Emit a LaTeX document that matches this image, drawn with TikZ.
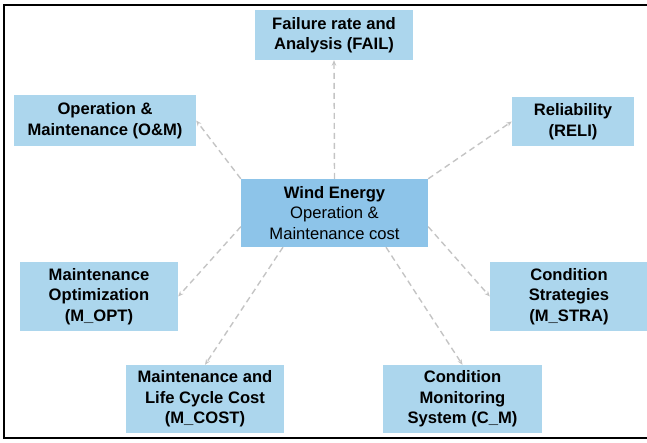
\documentclass[tikz,border=0pt]{standalone}
\usepackage{fontspec}
\setmainfont{Liberation Sans}
\usetikzlibrary{arrows.meta,calc}
\definecolor{topicblue}{RGB}{172,214,237}
\definecolor{coreblue}{RGB}{141,196,233}
\definecolor{linkgray}{RGB}{196,196,196}
\begin{document}
\begin{tikzpicture}[
    x=1pt, y=-1pt,
    topic/.style={rectangle, fill=topicblue, align=center, inner sep=0pt,
        font=\fontsize{16.6}{20.5}\selectfont\bfseries},
    core/.style={rectangle, fill=coreblue, align=center, inner sep=0pt,
        minimum width=187pt, minimum height=68pt, font=\fontsize{16.6}{20.5}\selectfont},
    link/.style={-{Stealth[length=5.5pt,width=4.5pt]}, linkgray, line width=1.4pt, dash pattern=on 6pt off 4pt}
]
\useasboundingbox (0,0) rectangle (647,443);
\draw[line width=2pt] (4,5) rectangle (660,438);

\node[core] (cen) at (334.5,213) {\textbf{Wind Energy}\\Operation \&\\Maintenance cost};
\node[topic, minimum width=158pt, minimum height=50pt] (fail) at (334,35) {Failure rate and\\Analysis (FAIL)};
\node[topic, minimum width=182pt, minimum height=51pt] (om) at (105,120.5) {Operation \&\\Maintenance (O\&M)};
\node[topic, minimum width=122pt, minimum height=49pt] (reli) at (573,121.5) {Reliability\\(RELI)};
\node[topic, minimum width=158pt, minimum height=69pt] (mopt) at (99,296.5) {Maintenance\\Optimization\\(M\_OPT)};
\node[topic, minimum width=158pt, minimum height=69pt] (mstra) at (569,296.5) {Condition\\Strategies\\(M\_STRA)};
\node[topic, minimum width=158pt, minimum height=68pt] (mcost) at (205,399) {Maintenance and\\Life Cycle Cost\\(M\_COST)};
\node[topic, minimum width=159pt, minimum height=68pt] (cm) at (462.5,399) {Condition\\Monitoring\\System (C\_M)};

\draw[link] (cen.north) -- (fail.south);
\draw[link] (cen.north west) -- (om.east);
\draw[link] (cen.north east) -- (reli.west);
\draw[link] ($(cen.north west)!0.7!(cen.south west)$) -- (mopt.east);
\draw[link] ($(cen.north east)!0.7!(cen.south east)$) -- (mstra.west);
\draw[link] ($(cen.south west)!0.225!(cen.south east)$) -- (mcost.north);
\draw[link] ($(cen.south west)!0.775!(cen.south east)$) -- (cm.north);
\end{tikzpicture}
\end{document}
